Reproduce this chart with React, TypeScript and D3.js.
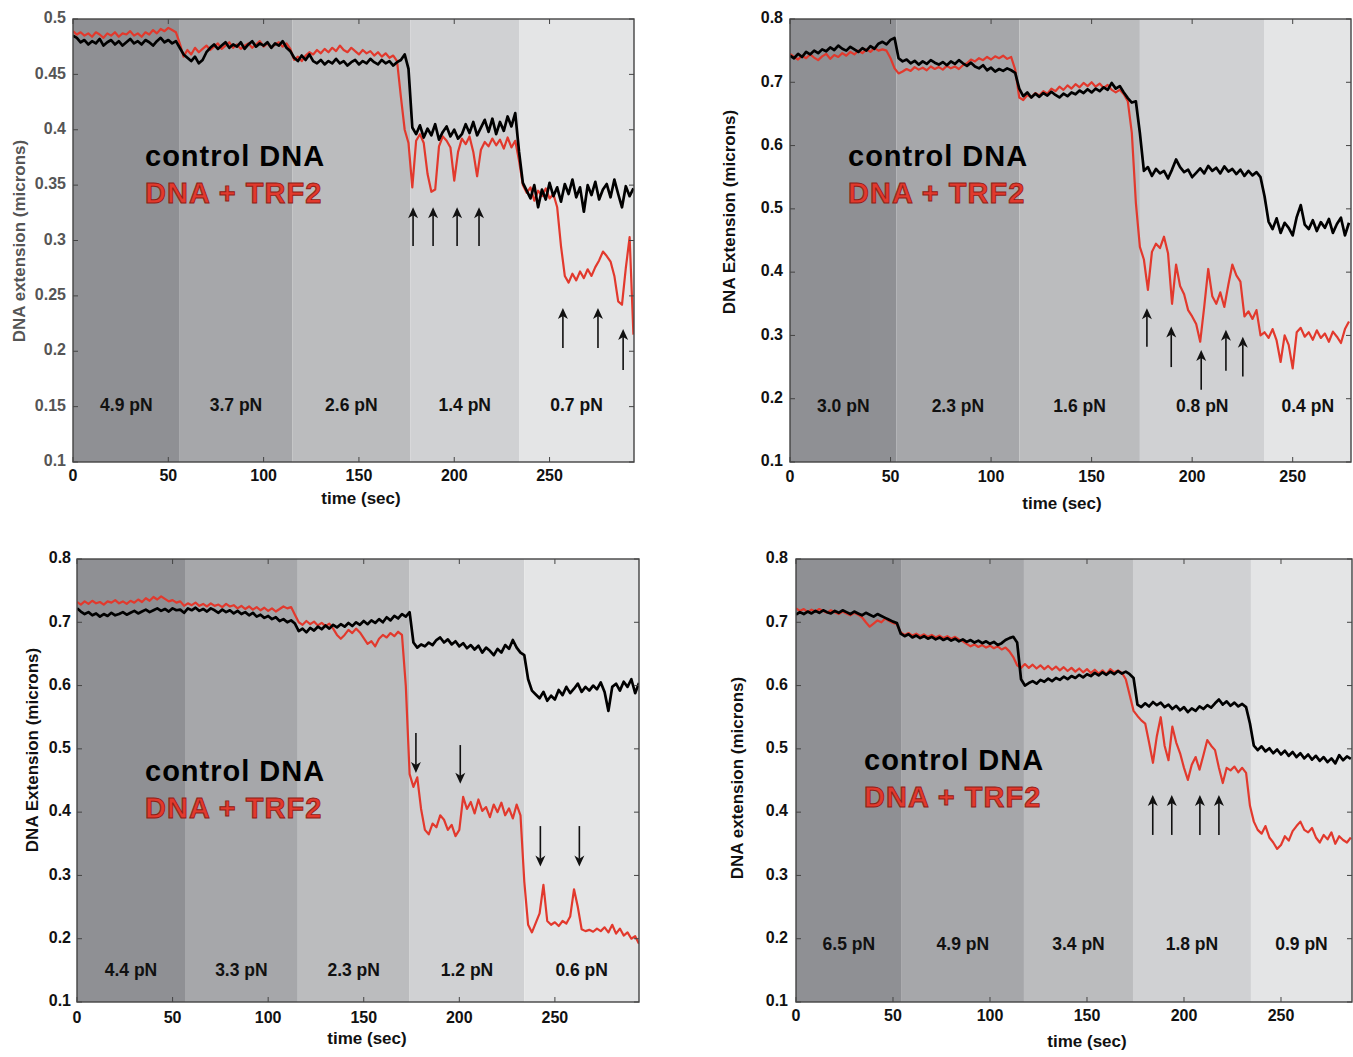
import React from 'react';
import * as d3 from 'd3';

// seconds between samples, extension values in nm
const STEP = 2;

const xTicks = [0, 50, 100, 150, 200, 250];
const yTicksA = [0.1, 0.15, 0.2, 0.25, 0.3, 0.35, 0.4, 0.45, 0.5];
const yTicksB = [0.1, 0.2, 0.3, 0.4, 0.5, 0.6, 0.7, 0.8];

// panel A (top left)
const bandsA = [0, 56, 115, 177, 234, 294.3];
const forcesA = ['4.9 pN', '3.7 pN', '2.6 pN', '1.4 pN', '0.7 pN'];
const controlA = [
  485, 483, 479, 481, 477, 480, 478, 482, 476, 479, 481, 477, 480, 476, 479, 482, 478, 480, 477, 481, 479, 476, 480, 483, 479, 481, 478, 480,
  474, 468, 465, 462, 466, 460, 463, 470, 474, 477, 473, 476, 479, 474, 477, 475, 479, 473, 477, 480, 475, 478, 476, 479, 474, 478, 476, 480, 474, 471,
  465, 462, 467, 463, 468, 462, 460, 463, 459, 462, 460, 464, 460, 462, 458, 461, 463, 459, 462, 460, 464, 461, 459, 463, 460, 462, 458, 461, 463, 468,
  455, 402, 396, 404, 393, 401, 395, 405, 391, 398, 403, 394, 400, 392, 396, 405, 397, 407, 395, 402, 409, 398, 410, 396, 407, 399, 412, 403, 415,
  380, 352, 345, 338, 350, 330, 346, 337, 352, 340, 348, 335, 351, 342, 355, 339, 348, 326, 350, 341, 353, 337, 346, 351, 339, 355, 342, 330, 349, 340, 347,
];
const trf2A = [
  489, 486, 488, 485, 487, 484, 488, 486, 483, 487, 485, 488, 484, 487, 486, 489, 485, 487, 484, 488, 486, 490, 487, 491, 489, 492, 490, 488,
  478, 466, 472, 468, 474, 470, 473, 476, 472, 475, 478, 473, 476, 479, 474, 477, 473, 476, 478, 474, 477, 480, 475, 478, 474, 477, 479, 475, 478, 473,
  463, 466, 462, 467, 470, 468, 472, 469, 473, 470, 474, 471, 476, 472, 470, 474, 471, 468, 472, 469, 471, 467, 470, 466, 469, 465, 467, 462, 430, 400,
  388, 348, 390, 396, 388, 360, 344, 346, 385, 394, 390, 384, 354, 380, 392, 387, 394, 380, 358, 382, 389, 385, 392, 386, 391, 383, 393, 384, 390,
  372, 350, 343, 348, 336, 345, 340, 347, 338, 342, 330, 295, 268, 262, 270, 264, 272, 266, 274, 268, 276, 282, 290, 286, 281, 268, 245, 242, 275, 303, 215,
];
const arrowsA = [
  { t: 178.4, tip: 0.33, tail: 0.295 },
  { t: 188.9, tip: 0.33, tail: 0.295 },
  { t: 201.5, tip: 0.33, tail: 0.295 },
  { t: 213, tip: 0.33, tail: 0.295 },
  { t: 257, tip: 0.239, tail: 0.203 },
  { t: 275.4, tip: 0.239, tail: 0.203 },
  { t: 288.6, tip: 0.22, tail: 0.183 },
];

// panel B (top right)
const bandsB = [0, 53, 114, 174, 236, 279];
const forcesB = ['3.0 pN', '2.3 pN', '1.6 pN', '0.8 pN', '0.4 pN'];
const controlB = [
  742, 738, 745, 740, 748, 744, 750, 746, 752, 749, 755, 751, 758, 753, 750, 756, 752, 748, 754, 750, 757, 753, 761, 764, 760, 767, 770,
  738, 733, 736, 730, 734, 728, 733, 729, 735, 731, 728, 732, 727, 733, 729, 735, 730, 726, 731, 725, 722, 727, 719, 723, 717, 721, 718, 722, 719, 715,
  690, 678, 684, 676, 682, 677, 683, 679, 685, 680, 676, 682, 678, 684, 681, 687, 683, 689, 684, 690, 686, 692, 688, 699, 690, 694, 684, 675, 668, 670,
  620, 560, 566, 552, 563, 556, 560, 548, 562, 578, 566, 558, 562, 550, 557, 564, 556, 568, 560, 565, 556, 567, 559, 563, 555, 562, 552, 560, 553, 558, 550,
  520, 480, 468, 485, 462, 478, 470, 458, 487, 506, 475, 468, 482, 465, 479, 470, 484, 462, 476, 486, 458, 478,
];
const trf2B = [
  745, 740, 736, 742, 738, 744, 739, 735, 741, 745, 737, 743, 740, 746, 742, 748, 744, 750, 746, 752, 748, 754, 750, 752, 750, 738, 722,
  714, 717, 721, 718, 724, 720, 723, 719, 725, 721, 724, 720, 726, 722, 725, 721, 727, 730, 736, 733, 738, 735, 740, 736, 741, 738, 742, 737, 740, 720,
  676, 672, 680, 676, 683, 679, 686, 682, 690, 686, 693, 688, 695, 690, 697, 692, 699, 694, 700, 693, 698, 691, 696, 688, 684, 688, 681, 670, 620, 510,
  440, 420, 372, 432, 445, 438, 456, 430, 350, 412, 378, 365, 340, 330, 318, 290, 345, 405, 362, 350, 368, 345, 380, 412, 395, 385, 330, 338, 326, 340, 300,
  305, 296, 310, 292, 258, 300, 285, 248, 305, 312, 298, 305, 293, 308, 296, 303, 290, 306, 298, 288, 310, 322,
];
const arrowsB = [
  { t: 177.5, tip: 0.343, tail: 0.282 },
  { t: 189.6, tip: 0.314, tail: 0.25 },
  { t: 204.5, tip: 0.277, tail: 0.214 },
  { t: 216.8, tip: 0.309, tail: 0.244 },
  { t: 225.2, tip: 0.298, tail: 0.235 },
];

// panel C (bottom left)
const bandsC = [0, 56.5, 115.5, 174, 234, 294];
const forcesC = ['4.4 pN', '3.3 pN', '2.3 pN', '1.2 pN', '0.6 pN'];
const controlC = [
  722, 717, 713, 716, 711, 714, 709, 713, 710, 715, 711, 713, 716, 712, 715, 718, 714, 717, 720, 716, 719, 722, 718, 721, 717, 722, 719, 720,
  715, 722, 719, 723, 718, 721, 717, 722, 719, 715, 720, 716, 719, 714, 718, 713, 716, 711, 715, 709, 712, 707, 710, 705, 708, 702, 705, 700, 703, 698,
  686, 690, 684, 691, 687, 693, 689, 695, 690, 696, 692, 697, 693, 699, 694, 700, 696, 702, 697, 703, 699, 705, 700, 708, 703, 710, 706, 713, 709, 716,
  668, 660, 665, 662, 668, 664, 672, 676, 668, 673, 665, 670, 662, 667, 659, 664, 657, 663, 652, 660, 655, 648, 658, 652, 664, 658, 672, 660, 652, 648,
  610, 592, 586, 580, 590, 576, 584, 578, 593, 585, 598, 588, 595, 603, 590, 598, 592, 600, 594, 605, 590, 560, 598, 603, 592, 606, 598, 610, 588, 604,
];
const trf2C = [
  732, 728, 733, 729, 734, 730, 732, 728, 733, 731, 735, 730, 733, 729, 734, 731, 736, 732, 738, 734, 740, 736, 741, 737, 733, 735, 731, 733,
  726, 730, 727, 731, 726, 729, 725, 730, 726, 728, 724, 729, 725, 727, 722, 726, 721, 725, 720, 724, 719, 723, 718, 722, 717, 721, 725, 722, 724, 712,
  700, 696, 702, 697, 701, 695, 699, 694, 698, 690, 680, 674, 680, 688, 683, 690, 684, 675, 666, 670, 662, 674, 680, 676, 683, 678, 685, 680, 600, 460,
  440, 455, 405, 372, 365, 382, 376, 395, 388, 372, 380, 362, 372, 424, 405, 416, 398, 420, 402, 408, 392, 412, 400, 415, 395, 406, 390, 412, 395, 290,
  222, 210, 225, 240, 285, 228, 222, 226, 220, 228, 224, 235, 278, 250, 215, 212, 214, 211, 216, 212, 218, 210, 222, 208, 216, 205, 210, 200, 204, 192,
];
const arrowsC = [
  { t: 177.3, tip: 0.462, tail: 0.525 },
  { t: 200.5, tip: 0.445, tail: 0.506 },
  { t: 242.4, tip: 0.314, tail: 0.378 },
  { t: 262.8, tip: 0.314, tail: 0.378 },
];

// panel D (bottom right)
const bandsD = [0, 54.5, 117.5, 173.7, 234.5, 286.6];
const forcesD = ['6.5 pN', '4.9 pN', '3.4 pN', '1.8 pN', '0.9 pN'];
const controlD = [
  712, 716, 713, 717, 714, 718, 715, 719, 716, 714, 718, 715, 719, 716, 713, 717, 714, 711, 715, 712, 709, 713, 710, 707, 704, 701, 699,
  682, 678, 681, 676, 679, 675, 678, 674, 677, 673, 676, 672, 675, 671, 674, 670, 673, 669, 672, 668, 671, 667, 670, 666, 669, 664, 667, 672, 675, 677, 668, 610,
  600, 604, 607, 603, 609, 606, 611, 607, 612, 609, 614, 610, 615, 612, 617, 613, 618, 615, 620, 616, 621, 617, 622, 618, 623, 619, 622, 618, 612,
  570, 566, 572, 567, 574, 569, 573, 566, 570, 563, 568, 561, 566, 558, 564, 560, 567, 563, 569, 565, 572, 578, 570, 575, 568, 573, 567, 571, 566, 540,
  505, 498, 504, 496, 501, 493, 499, 491, 497, 489, 495, 487, 493, 485, 491, 483, 489, 481, 487, 479, 485, 477, 490, 482, 488, 484,
];
const trf2D = [
  722, 718, 721, 716, 720, 717, 721, 718, 715, 719, 716, 713, 717, 714, 711, 715, 712, 708, 700, 693, 698, 703, 700, 706, 702, 699, 697,
  684, 680, 683, 679, 682, 678, 681, 677, 680, 676, 679, 675, 678, 674, 677, 673, 670, 666, 662, 665, 661, 664, 660, 663, 659, 662, 657, 660, 654, 645, 632, 628,
  634, 628, 633, 627, 632, 626, 631, 625, 630, 624, 629, 623, 628, 622, 627, 621, 626, 620, 625, 619, 624, 618, 626, 621, 624, 620, 610, 585, 560,
  552, 545, 540, 510, 478, 520, 550, 505, 482, 535, 510, 493, 470, 451, 475, 487, 467, 490, 514, 505, 498, 470, 446, 470, 466, 472, 463, 470, 462, 410,
  385, 372, 366, 378, 360, 352, 342, 348, 362, 355, 370, 378, 385, 372, 368, 375, 360, 352, 364, 357, 368, 350, 362, 356, 352, 360,
];
const arrowsD = [
  { t: 183.9, tip: 0.427, tail: 0.364 },
  { t: 193.7, tip: 0.427, tail: 0.364 },
  { t: 208.2, tip: 0.427, tail: 0.364 },
  { t: 218, tip: 0.427, tail: 0.364 },
];

const FONT = '"Liberation Sans", Arial, Helvetica, sans-serif';
const BAND_FILLS = ['#8f9094', '#a6a7aa', '#bbbcbe', '#d0d1d3', '#e4e5e6'];
const RED = '#e2392d';

const panels = [
  {
    id: 'a', left: 73, top: 19, right: 634, bottom: 462, yDomain: [0.1, 0.5], yTicks: yTicksA,
    bands: bandsA, forces: forcesA, control: controlA, trf2: trf2A, arrows: arrowsA,
    yLabel: 'DNA extension (microns)', yColor: '#555', yLabelX: 25, yLabelY: 241,
    xLabelX: 361, xLabelDy: 42, xTickDy: 19, yTickDx: 7, forceDy: 56, legendX: 145, legendY: 166,
  },
  {
    id: 'b', left: 790, top: 19, right: 1351, bottom: 462, yDomain: [0.1, 0.8], yTicks: yTicksB,
    bands: bandsB, forces: forcesB, control: controlB, trf2: trf2B, arrows: arrowsB,
    yLabel: 'DNA Extension (microns)', yColor: '#111', yLabelX: 735, yLabelY: 212,
    xLabelX: 1062, xLabelDy: 47, xTickDy: 20, yTickDx: 7, forceDy: 55, legendX: 848, legendY: 166,
  },
  {
    id: 'c', left: 77, top: 559, right: 639, bottom: 1002, yDomain: [0.1, 0.8], yTicks: yTicksB,
    bands: bandsC, forces: forcesC, control: controlC, trf2: trf2C, arrows: arrowsC,
    yLabel: 'DNA Extension (microns)', yColor: '#111', yLabelX: 38, yLabelY: 750,
    xLabelX: 367, xLabelDy: 42, xTickDy: 21, yTickDx: 6, forceDy: 31, legendX: 145, legendY: 781,
  },
  {
    id: 'd', left: 796, top: 559, right: 1352, bottom: 1002, yDomain: [0.1, 0.8], yTicks: yTicksB,
    bands: bandsD, forces: forcesD, control: controlD, trf2: trf2D, arrows: arrowsD,
    yLabel: 'DNA extension (microns)', yColor: '#111', yLabelX: 743, yLabelY: 778,
    xLabelX: 1087, xLabelDy: 45, xTickDy: 19, yTickDx: 8, forceDy: 57, legendX: 864, legendY: 770,
  },
];

function Panel({ p }) {
  const tMax = p.bands[p.bands.length - 1];
  const x = d3.scaleLinear().domain([0, tMax]).range([p.left, p.right]);
  const y = d3.scaleLinear().domain(p.yDomain).range([p.bottom, p.top]);
  const line = d3
    .line<number>()
    .x((_, i) => x(i * STEP))
    .y((d) => y(d / 1000));
  const tick = 5;

  return (
    <g fontFamily={FONT} fontWeight="bold">
      <defs>
        <clipPath id={`clip-${p.id}`}>
          <rect x={p.left} y={p.top} width={p.right - p.left} height={p.bottom - p.top} />
        </clipPath>
      </defs>
      {p.forces.map((f, i) => (
        <rect
          key={f + i}
          x={x(p.bands[i])}
          y={p.top}
          width={x(p.bands[i + 1]) - x(p.bands[i])}
          height={p.bottom - p.top}
          fill={BAND_FILLS[i]}
        />
      ))}
      {p.forces.map((f, i) => (
        <text
          key={'f' + i}
          x={(x(p.bands[i]) + x(p.bands[i + 1])) / 2}
          y={p.bottom - p.forceDy}
          textAnchor="middle"
          dominantBaseline="middle"
          fontSize={17.5}
          fill="#111"
        >
          {f}
        </text>
      ))}
      <g clipPath={`url(#clip-${p.id})`} fill="none" strokeLinejoin="round">
        <path d={line(p.trf2)} stroke={RED} strokeWidth={2.2} />
        <path d={line(p.control)} stroke="#000" strokeWidth={2.7} />
      </g>
      {p.arrows.map((a, i) => {
        const ax = x(a.t);
        const yTip = y(a.tip);
        const yTail = y(a.tail);
        const dir = yTip < yTail ? 1 : -1;
        const hl = 11;
        const hw = 5;
        return (
          <g key={'a' + i}>
            <line x1={ax} x2={ax} y1={yTail} y2={yTip + dir * hl * 0.7} stroke="#111" strokeWidth={1.6} />
            <path
              d={`M${ax},${yTip} L${ax - hw},${yTip + dir * hl} L${ax},${yTip + dir * hl * 0.72} L${ax + hw},${yTip + dir * hl} Z`}
              fill="#111"
            />
          </g>
        );
      })}
      <text x={p.legendX} y={p.legendY} fontSize={29} letterSpacing={1} fill="#000">
        control DNA
      </text>
      <text
        x={p.legendX}
        y={p.legendY + 37}
        fontSize={29}
        letterSpacing={1}
        fill={RED}
        stroke="#8e1d16"
        strokeWidth={0.9}
      >
        DNA + TRF2
      </text>
      <rect
        x={p.left}
        y={p.top}
        width={p.right - p.left}
        height={p.bottom - p.top}
        fill="none"
        stroke="#444"
        strokeWidth={1.4}
      />
      {xTicks.map((t) => (
        <g key={'x' + t}>
          <line x1={x(t)} x2={x(t)} y1={p.bottom} y2={p.bottom - tick} stroke="#444" strokeWidth={1} />
          <line x1={x(t)} x2={x(t)} y1={p.top} y2={p.top + tick} stroke="#444" strokeWidth={1} />
          <text x={x(t)} y={p.bottom + p.xTickDy} textAnchor="middle" fontSize={16} fill="#111">
            {t}
          </text>
        </g>
      ))}
      {p.yTicks.map((v) => (
        <g key={'y' + v}>
          <line x1={p.left} x2={p.left + tick} y1={y(v)} y2={y(v)} stroke="#444" strokeWidth={1} />
          <line x1={p.right} x2={p.right - tick} y1={y(v)} y2={y(v)} stroke="#444" strokeWidth={1} />
          <text
            x={p.left - p.yTickDx}
            y={y(v)}
            textAnchor="end"
            dominantBaseline="middle"
            fontSize={16}
            fill={p.yColor}
          >
            {String(+v.toFixed(2))}
          </text>
        </g>
      ))}
      <text x={p.xLabelX} y={p.bottom + p.xLabelDy} textAnchor="middle" fontSize={17} fill="#111">
        time (sec)
      </text>
      <text
        transform={`translate(${p.yLabelX},${p.yLabelY}) rotate(-90)`}
        textAnchor="middle"
        fontSize={17}
        fill={p.yColor}
      >
        {p.yLabel}
      </text>
    </g>
  );
}

export default function App() {
  return (
    <svg
      width={1353}
      height={1057}
      style={{ position: 'absolute', left: 0, top: 0, background: '#fff' }}
    >
      {panels.map((p) => (
        <Panel key={p.id} p={p} />
      ))}
    </svg>
  );
}
